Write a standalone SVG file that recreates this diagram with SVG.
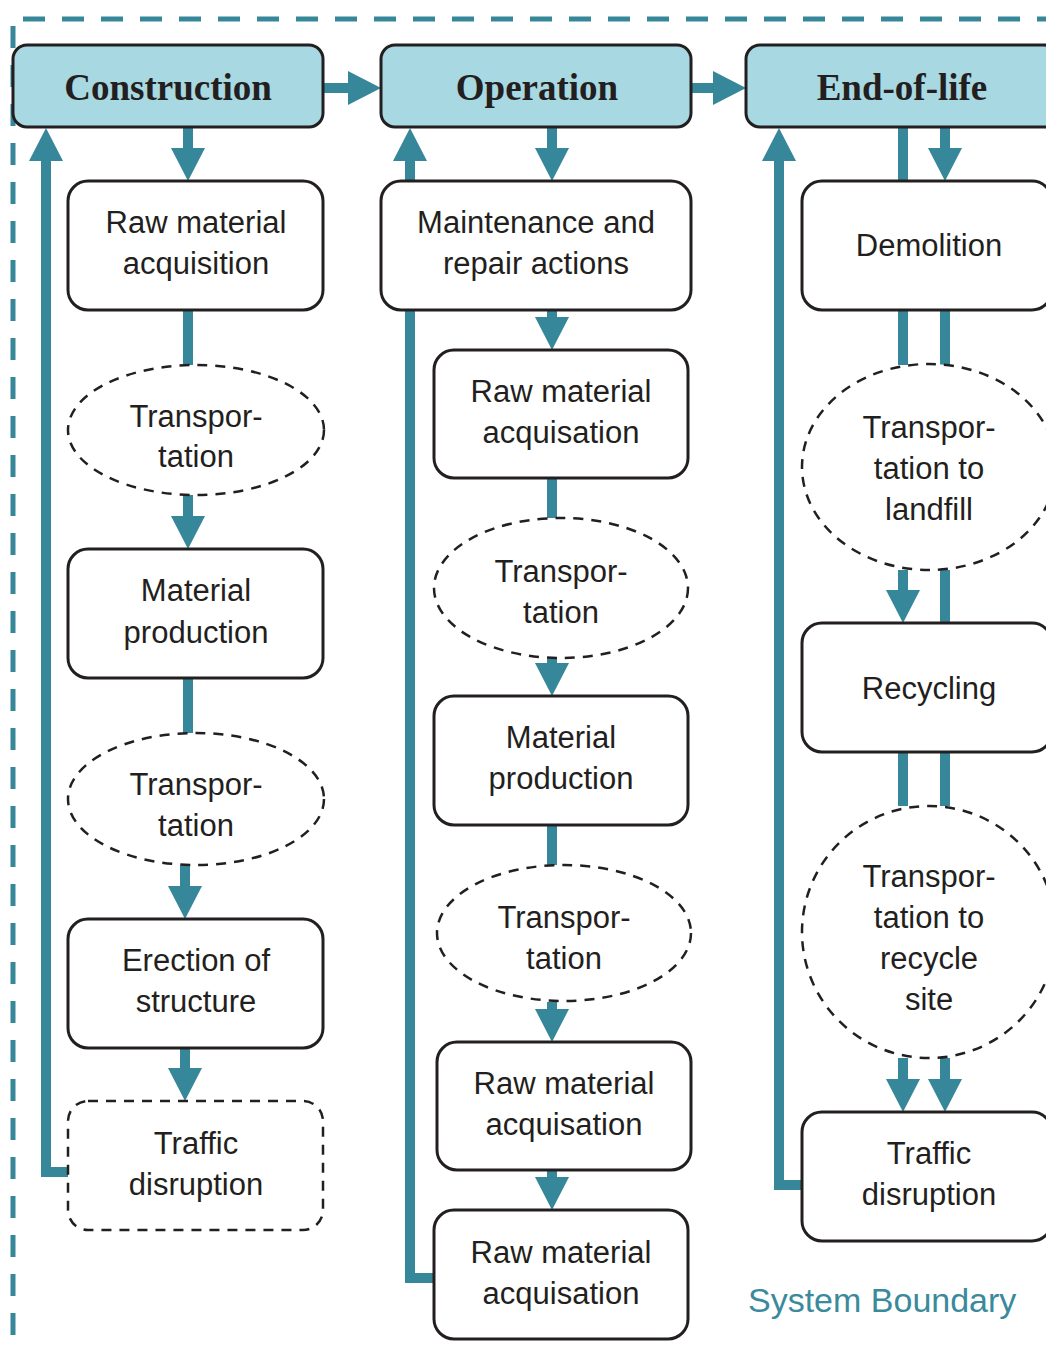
<svg xmlns="http://www.w3.org/2000/svg" width="1046" height="1349" viewBox="0 0 1046 1349">
<style>
.hdr{fill:#a8d8e2;stroke:#231f20;stroke-width:3}
.box{fill:#fff;stroke:#231f20;stroke-width:3}
.dbox{fill:#fff;stroke:#231f20;stroke-width:2.5;stroke-dasharray:10 8}
.ell{fill:#fff;stroke:#231f20;stroke-width:2.5;stroke-dasharray:10 8}
.ht{font-family:"Liberation Serif","Times New Roman",serif;font-weight:bold;font-size:37px;fill:#231f20;text-anchor:middle}
.t{font-family:"Liberation Sans",Arial,sans-serif;font-size:31px;fill:#231f20;text-anchor:middle}
.c{fill:none;stroke:#368799;stroke-width:10;stroke-linejoin:miter}
.a{marker-end:url(#ah)}
.sb{font-family:"Liberation Sans",Arial,sans-serif;font-size:34px;fill:#3a8a9c}
</style>
<defs>
<marker id="ah" markerUnits="userSpaceOnUse" markerWidth="34" markerHeight="34" viewBox="0 0 34 34" refX="0" refY="17" orient="auto">
<path d="M0,0 L33,17 L0,34 Z" fill="#368799"/>
</marker>
</defs>
<path id="boundary" d="M13,1335 V19 H1046" fill="none" stroke="#368799" stroke-width="5" stroke-dasharray="22 17"/>
<g id="connectors">
<path class="c a" d="M188,127 V148"/>
<path class="c" d="M188,310 V365"/>
<path class="c a" d="M188,495 V516"/>
<path class="c" d="M188,678 V733"/>
<path class="c a" d="M185,865 V886"/>
<path class="c a" d="M185,1048 V1068"/>
<path class="c a" d="M68,1172 H46 V161"/>
<path class="c a" d="M323,88 H348"/>
<path class="c a" d="M691,88 H713"/>
<path class="c a" d="M552,127 V148"/>
<path class="c a" d="M552,310 V317"/>
<path class="c" d="M552,478 V518"/>
<path class="c a" d="M552,658 V663"/>
<path class="c" d="M552,825 V865"/>
<path class="c a" d="M552,1002 V1009"/>
<path class="c a" d="M552,1170 V1177"/>
<path class="c a" d="M434,1278 H410 V161"/>
<path class="c" d="M903,127 V181"/>
<path class="c a" d="M945,127 V148"/>
<path class="c" d="M903,310 V365"/>
<path class="c" d="M945,310 V365"/>
<path class="c a" d="M903,570 V590"/>
<path class="c" d="M945,570 V623"/>
<path class="c" d="M903,752 V806"/>
<path class="c" d="M945,752 V806"/>
<path class="c a" d="M903,1058 V1079"/>
<path class="c a" d="M945,1058 V1079"/>
<path class="c a" d="M802,1185 H779 V161"/>
</g>
<g id="construction"><rect class="hdr" x="13" y="45" width="310" height="82" rx="14"/><text class="ht" x="168" y="100">Construction</text></g>
<g id="operation"><rect class="hdr" x="381" y="45" width="310" height="82" rx="14"/><text class="ht" x="537" y="100">Operation</text></g>
<g id="endoflife"><rect class="hdr" x="746" y="45" width="312" height="82" rx="14"/><text class="ht" x="902" y="100">End-of-life</text></g>

<g id="c-raw"><rect class="box" x="68" y="181" width="255" height="129" rx="20"/><text class="t" x="196" y="233">Raw material</text><text class="t" x="196" y="274">acquisition</text></g>
<g id="c-trans1"><ellipse class="ell" cx="196" cy="430" rx="128" ry="65"/><text class="t" x="196" y="427">Transpor-</text><text class="t" x="196" y="467">tation</text></g>
<g id="c-mat"><rect class="box" x="68" y="549" width="255" height="129" rx="20"/><text class="t" x="196" y="601">Material</text><text class="t" x="196" y="643">production</text></g>
<g id="c-trans2"><ellipse class="ell" cx="196" cy="799" rx="128" ry="66"/><text class="t" x="196" y="795">Transpor-</text><text class="t" x="196" y="836">tation</text></g>
<g id="c-erect"><rect class="box" x="68" y="919" width="255" height="129" rx="20"/><text class="t" x="196" y="971">Erection of</text><text class="t" x="196" y="1012">structure</text></g>
<g id="c-traffic"><rect class="dbox" x="68" y="1101" width="255" height="129" rx="20"/><text class="t" x="196" y="1154">Traffic</text><text class="t" x="196" y="1195">disruption</text></g>

<g id="o-maint"><rect class="box" x="381" y="181" width="310" height="129" rx="20"/><text class="t" x="536" y="233">Maintenance and</text><text class="t" x="536" y="274">repair actions</text></g>
<g id="o-raw1"><rect class="box" x="434" y="350" width="254" height="128" rx="20"/><text class="t" x="561" y="402">Raw material</text><text class="t" x="561" y="443">acquisation</text></g>
<g id="o-trans1"><ellipse class="ell" cx="561" cy="588" rx="127" ry="70"/><text class="t" x="561" y="582">Transpor-</text><text class="t" x="561" y="623">tation</text></g>
<g id="o-mat"><rect class="box" x="434" y="696" width="254" height="129" rx="20"/><text class="t" x="561" y="748">Material</text><text class="t" x="561" y="789">production</text></g>
<g id="o-trans2"><ellipse class="ell" cx="564" cy="933" rx="127" ry="68"/><text class="t" x="564" y="928">Transpor-</text><text class="t" x="564" y="969">tation</text></g>
<g id="o-raw2"><rect class="box" x="437" y="1042" width="254" height="128" rx="20"/><text class="t" x="564" y="1094">Raw material</text><text class="t" x="564" y="1135">acquisation</text></g>
<g id="o-raw3"><rect class="box" x="434" y="1210" width="254" height="129" rx="20"/><text class="t" x="561" y="1263">Raw material</text><text class="t" x="561" y="1304">acquisation</text></g>

<g id="e-demol"><rect class="box" x="802" y="181" width="250" height="129" rx="20"/><text class="t" x="929" y="256">Demolition</text></g>
<g id="e-trans1"><ellipse class="ell" cx="929" cy="467" rx="127" ry="103"/><text class="t" x="929" y="438">Transpor-</text><text class="t" x="929" y="479">tation to</text><text class="t" x="929" y="520">landfill</text></g>
<g id="e-recyc"><rect class="box" x="802" y="623" width="250" height="129" rx="20"/><text class="t" x="929" y="699">Recycling</text></g>
<g id="e-trans2"><ellipse class="ell" cx="929" cy="932" rx="127" ry="126"/><text class="t" x="929" y="887">Transpor-</text><text class="t" x="929" y="928">tation to</text><text class="t" x="929" y="969">recycle</text><text class="t" x="929" y="1010">site</text></g>
<g id="e-traffic"><rect class="box" x="802" y="1112" width="250" height="129" rx="20"/><text class="t" x="929" y="1164">Traffic</text><text class="t" x="929" y="1205">disruption</text></g>

<text class="sb" x="748" y="1312">System Boundary</text>
</svg>
